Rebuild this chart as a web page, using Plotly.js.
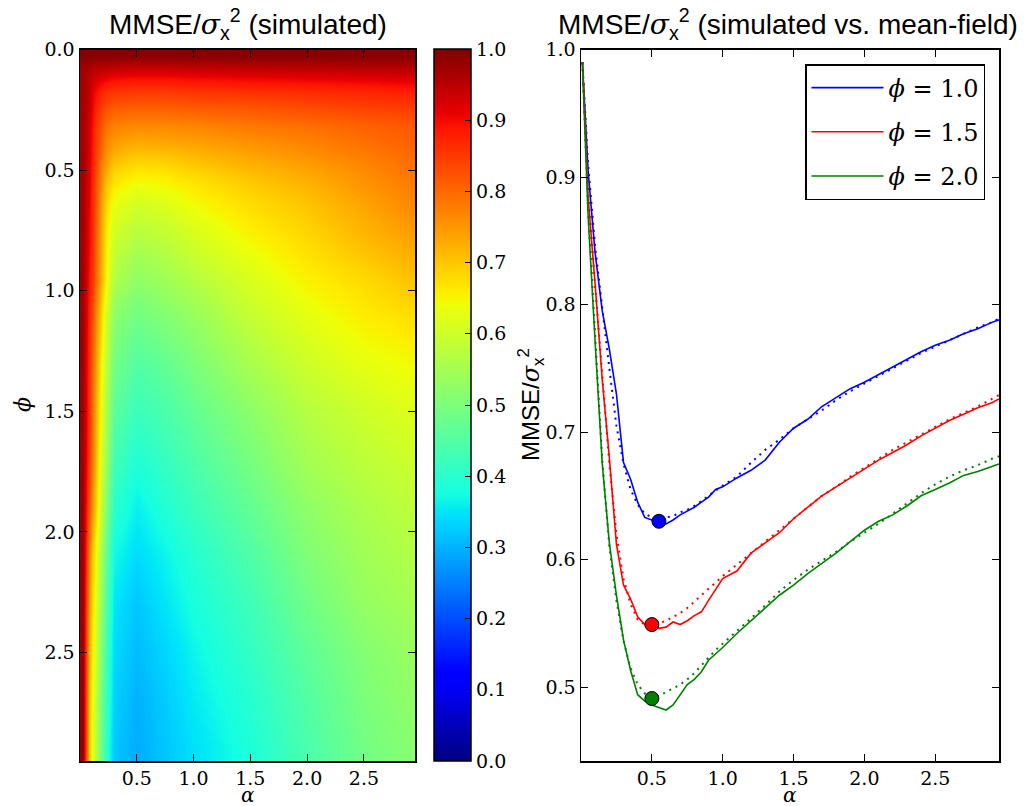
<!DOCTYPE html>
<html>
<head>
<meta charset="utf-8">
<script src="https://cdn.plot.ly/plotly-3.0.1.min.js"></script>
<style>html,body{margin:0;padding:0;background:#fff;}#chart{width:1029px;height:806px;}</style>
</head>
<body>
<div id="chart"></div>
<script>
// ---------- Heatmap data (MMSE / sigma_x^2, simulated) ----------
const alphaCells = [0.025, 0.075, 0.125, 0.175, 0.225, 0.3, 0.5, 0.75, 1.0, 1.5, 2.0, 2.5, 2.925];
const phiCells = [0.025, 0.075, 0.125, 0.175, 0.225, 0.275, 0.325, 0.375, 0.425, 0.475, 0.525, 0.575,
                  0.65, 0.75, 0.85, 0.95, 1.1, 1.3, 1.5, 1.7, 1.9, 2.1, 2.3, 2.5, 2.7, 2.9];
const mmseGrid = [
  [0.995,0.995,0.995,0.995,0.995,0.995,0.995,0.995,0.995,0.995,0.995,0.995,0.995],
  [0.97,0.965,0.955,0.95,0.95,0.945,0.94,0.94,0.945,0.95,0.95,0.955,0.955],
  [0.97,0.95,0.93,0.915,0.905,0.895,0.89,0.89,0.895,0.9,0.905,0.91,0.915],
  [0.97,0.945,0.905,0.88,0.86,0.855,0.85,0.85,0.855,0.86,0.865,0.87,0.88],
  [0.97,0.94,0.895,0.86,0.84,0.825,0.82,0.82,0.825,0.83,0.84,0.85,0.855],
  [0.97,0.935,0.885,0.84,0.81,0.795,0.79,0.79,0.795,0.805,0.815,0.825,0.835],
  [0.97,0.93,0.875,0.825,0.79,0.77,0.76,0.76,0.765,0.78,0.79,0.805,0.815],
  [0.97,0.93,0.87,0.815,0.775,0.75,0.735,0.74,0.745,0.76,0.775,0.795,0.81],
  [0.97,0.925,0.865,0.805,0.76,0.725,0.705,0.71,0.72,0.74,0.76,0.78,0.8],
  [0.97,0.92,0.86,0.79,0.74,0.7,0.678,0.683,0.698,0.722,0.742,0.768,0.792],
  [0.97,0.92,0.855,0.78,0.72,0.675,0.655,0.66,0.678,0.703,0.728,0.758,0.783],
  [0.97,0.915,0.85,0.77,0.7,0.655,0.63,0.64,0.66,0.69,0.715,0.75,0.775],
  [0.97,0.91,0.845,0.76,0.68,0.63,0.605,0.615,0.64,0.675,0.7,0.735,0.765],
  [0.97,0.905,0.84,0.75,0.665,0.605,0.575,0.59,0.615,0.655,0.685,0.72,0.745],
  [0.97,0.9,0.835,0.745,0.655,0.585,0.55,0.565,0.595,0.635,0.67,0.7,0.725],
  [0.975,0.89,0.83,0.74,0.65,0.565,0.525,0.545,0.57,0.615,0.655,0.68,0.705],
  [0.975,0.875,0.8,0.7,0.61,0.52,0.49,0.51,0.535,0.59,0.63,0.66,0.675],
  [0.975,0.865,0.775,0.67,0.58,0.49,0.45,0.47,0.5,0.555,0.6,0.63,0.645],
  [0.975,0.86,0.76,0.65,0.56,0.46,0.42,0.44,0.47,0.52,0.57,0.6,0.62],
  [0.975,0.85,0.75,0.63,0.54,0.43,0.39,0.415,0.445,0.495,0.55,0.58,0.6],
  [0.975,0.82,0.72,0.61,0.51,0.4,0.36,0.39,0.42,0.47,0.525,0.56,0.58],
  [0.975,0.77,0.67,0.57,0.47,0.37,0.34,0.365,0.395,0.445,0.505,0.545,0.565],
  [0.975,0.74,0.65,0.55,0.45,0.35,0.32,0.35,0.38,0.425,0.485,0.53,0.55],
  [0.975,0.72,0.63,0.53,0.43,0.34,0.31,0.335,0.365,0.41,0.465,0.51,0.535],
  [0.98,0.7,0.61,0.51,0.42,0.33,0.3,0.325,0.355,0.395,0.45,0.5,0.525],
  [0.98,0.69,0.6,0.5,0.41,0.32,0.295,0.32,0.345,0.385,0.44,0.49,0.515]
];

// ---------- Curves (simulated vs. mean-field) ----------
const alphaCurve = [0.01,0.05,0.1,0.15,0.2,0.25,0.3,0.35,0.4,0.45,0.5,0.55,0.6,0.65,0.7,0.75,0.8,0.85,0.9,0.95,
                    1.0,1.1,1.2,1.3,1.4,1.5,1.6,1.7,1.8,1.9,2.0,2.1,2.2,2.3,2.4,2.5,2.6,2.7,2.8,2.9,2.95];
const simPhi10 = [0.99,0.905,0.84,0.795,0.765,0.73,0.676,0.663,0.645,0.633,0.631,0.629,0.628,0.631,0.635,0.638,0.641,0.645,0.649,0.655,
                  0.657,0.664,0.670,0.678,0.692,0.703,0.71,0.72,0.727,0.734,0.739,0.745,0.751,0.757,0.763,0.768,0.772,0.777,0.781,0.786,0.788];
const mfPhi10  = [0.99,0.91,0.845,0.795,0.75,0.705,0.675,0.655,0.643,0.636,0.633,0.632,0.633,0.634,0.637,0.639,0.642,0.646,0.65,0.654,
                  0.658,0.665,0.676,0.686,0.694,0.703,0.71,0.717,0.725,0.732,0.738,0.744,0.75,0.756,0.762,0.767,0.772,0.777,0.782,0.786,0.789];
const simPhi15 = [0.99,0.885,0.815,0.741,0.68,0.612,0.58,0.569,0.555,0.549,0.547,0.546,0.547,0.551,0.549,0.552,0.556,0.559,0.568,0.577,
                  0.585,0.591,0.605,0.613,0.621,0.632,0.641,0.65,0.657,0.664,0.671,0.678,0.684,0.69,0.697,0.703,0.709,0.714,0.719,0.723,0.726];
const mfPhi15  = [0.99,0.89,0.815,0.745,0.675,0.62,0.585,0.565,0.553,0.549,0.549,0.55,0.552,0.555,0.558,0.562,0.567,0.572,0.577,0.582,
                  0.587,0.596,0.605,0.614,0.623,0.632,0.641,0.65,0.657,0.665,0.672,0.679,0.686,0.692,0.698,0.704,0.71,0.715,0.72,0.726,0.729];
const simPhi20 = [0.99,0.87,0.77,0.675,0.613,0.572,0.537,0.513,0.494,0.489,0.486,0.484,0.482,0.486,0.494,0.502,0.506,0.512,0.521,0.526,
                  0.531,0.542,0.552,0.562,0.572,0.58,0.589,0.597,0.605,0.614,0.623,0.63,0.635,0.642,0.65,0.655,0.66,0.666,0.669,0.673,0.675];
const mfPhi20  = [0.99,0.875,0.775,0.678,0.61,0.568,0.536,0.515,0.502,0.495,0.492,0.493,0.496,0.499,0.502,0.506,0.511,0.517,0.523,0.529,
                  0.534,0.544,0.554,0.564,0.575,0.584,0.592,0.599,0.606,0.614,0.621,0.628,0.636,0.644,0.652,0.659,0.665,0.67,0.674,0.679,0.681];
const minAlpha = [0.55, 0.50, 0.50];
const minMMSE  = [0.630, 0.549, 0.491];
const seriesNames = ['<i>ϕ</i> = 1.0', '<i>ϕ</i> = 1.5', '<i>ϕ</i> = 2.0'];
const seriesColors = ['#0000ff', '#ff0000', '#008000'];

// ---------- Ticks ----------
const heatXTicks = [0.5, 1.0, 1.5, 2.0, 2.5];
const heatYTicks = [0.0, 0.5, 1.0, 1.5, 2.0, 2.5];
const cbTicks = [0.0, 0.1, 0.2, 0.3, 0.4, 0.5, 0.6, 0.7, 0.8, 0.9, 1.0];
const lineXTicks = [0.5, 1.0, 1.5, 2.0, 2.5];
const lineYTicks = [0.5, 0.6, 0.7, 0.8, 0.9, 1.0];
const fmt = v => v.toFixed(1);

// matplotlib "jet" colormap
const jet = [
  [0.0, 'rgb(0,0,128)'], [0.11, 'rgb(0,0,255)'], [0.125, 'rgb(0,0,255)'],
  [0.34, 'rgb(0,219,255)'], [0.35, 'rgb(0,230,247)'], [0.375, 'rgb(21,255,226)'],
  [0.64, 'rgb(238,255,8)'], [0.65, 'rgb(247,246,0)'], [0.66, 'rgb(255,236,0)'],
  [0.89, 'rgb(255,19,0)'], [0.91, 'rgb(232,0,0)'], [1.0, 'rgb(128,0,0)']
];

const W = 1029, H = 806;
const px = v => v / W;
const py = v => 1 - v / H;
const plotTop = 49.5, plotBot = 761;
const serif = 'DejaVu Serif';
const sans = 'Liberation Sans, Arial, sans-serif';
const tickFont = {family: serif, size: 19, color: '#000'};
const sig = '<i style="font-family:DejaVu Serif">σ</i><sub>x</sub><sup>2</sup>';

const traces = [];
traces.push({
  type: 'heatmap', x: alphaCells, y: phiCells, z: mmseGrid,
  colorscale: jet, zmin: 0, zmax: 1, zsmooth: 'best',
  xaxis: 'x', yaxis: 'y', hoverinfo: 'skip',
  colorbar: {
    x: px(434), xanchor: 'left', xref: 'paper',
    y: py(plotBot), yanchor: 'bottom', yref: 'paper',
    thickness: 37, thicknessmode: 'pixels',
    len: plotBot - plotTop, lenmode: 'pixels',
    xpad: 0, ypad: 0,
    outlinecolor: '#000', outlinewidth: 1.5,
    tickmode: 'array', tickvals: cbTicks, ticktext: cbTicks.map(fmt),
    ticks: 'inside', ticklen: 6, tickcolor: '#000', tickwidth: 1,
    tickfont: tickFont
  }
});
const sims = [simPhi10, simPhi15, simPhi20];
const mfs = [mfPhi10, mfPhi15, mfPhi20];
for (let i = 0; i < 3; i++) {
  traces.push({
    type: 'scatter', mode: 'lines', x: alphaCurve, y: sims[i], name: seriesNames[i],
    line: {color: seriesColors[i], width: 1.6}, xaxis: 'x2', yaxis: 'y2',
    legendgroup: 'g' + i, hoverinfo: 'skip'
  });
}
for (let i = 0; i < 3; i++) {
  traces.push({
    type: 'scatter', mode: 'lines', x: alphaCurve, y: mfs[i], showlegend: false,
    line: {color: seriesColors[i], width: 2, dash: '2px,5px'}, xaxis: 'x2', yaxis: 'y2',
    legendgroup: 'g' + i, hoverinfo: 'skip'
  });
}
traces.push({
  type: 'scatter', mode: 'markers', x: minAlpha, y: minMMSE, showlegend: false,
  marker: {color: seriesColors, size: 14, line: {color: '#000', width: 1}},
  xaxis: 'x2', yaxis: 'y2', hoverinfo: 'skip'
});

const axisBase = {
  showline: true, linecolor: '#000', linewidth: 1.5, mirror: 'ticks',
  ticks: 'inside', ticklen: 7, tickwidth: 1, tickcolor: '#000',
  showgrid: false, zeroline: false, tickfont: tickFont, fixedrange: true
};

const layout = {
  width: W, height: H,
  margin: {l: 0, r: 0, t: 0, b: 0},
  paper_bgcolor: '#fff', plot_bgcolor: '#fff',
  font: {family: serif, color: '#000'},
  showlegend: true,
  legend: {
    x: px(985), xanchor: 'right', y: py(64), yanchor: 'top',
    bordercolor: '#000', borderwidth: 1.5, bgcolor: '#fff',
    font: {family: serif, size: 24, color: '#000'},
    traceorder: 'grouped', tracegroupgap: 10, itemwidth: 72
  },
  xaxis: Object.assign({}, axisBase, {
    domain: [px(80), px(415)], range: [0, 2.95], anchor: 'y',
    tickmode: 'array', tickvals: heatXTicks, ticktext: heatXTicks.map(fmt)
  }),
  yaxis: Object.assign({}, axisBase, {
    domain: [py(plotBot), py(plotTop)], range: [2.95, 0], anchor: 'x',
    tickmode: 'array', tickvals: heatYTicks, ticktext: heatYTicks.map(fmt)
  }),
  xaxis2: Object.assign({}, axisBase, {
    domain: [px(581), px(999)], range: [0, 2.95], anchor: 'y2',
    tickmode: 'array', tickvals: lineXTicks, ticktext: lineXTicks.map(fmt)
  }),
  yaxis2: Object.assign({}, axisBase, {
    domain: [py(plotBot), py(plotTop)], range: [0.442, 1.0], anchor: 'x2',
    tickmode: 'array', tickvals: lineYTicks, ticktext: lineYTicks.map(fmt)
  }),
  annotations: [
    {text: 'MMSE/' + sig + ' (simulated)',
     x: px(247.5), y: py(24), xref: 'paper', yref: 'paper', xanchor: 'center', yanchor: 'middle',
     showarrow: false, font: {family: sans, size: 28, color: '#000'}},
    {text: 'MMSE/' + sig + ' (simulated vs. mean-field)',
     x: px(788), y: py(24), xref: 'paper', yref: 'paper', xanchor: 'center', yanchor: 'middle',
     showarrow: false, font: {family: sans, size: 28, color: '#000'}},
    {text: '<i>α</i>', x: px(247.5), y: py(795), xref: 'paper', yref: 'paper',
     xanchor: 'center', yanchor: 'middle', showarrow: false, font: {family: serif, size: 20, color: '#000'}},
    {text: '<i>α</i>', x: px(790), y: py(795), xref: 'paper', yref: 'paper',
     xanchor: 'center', yanchor: 'middle', showarrow: false, font: {family: serif, size: 20, color: '#000'}},
    {text: '<i>ϕ</i>', x: px(22), y: py(405), xref: 'paper', yref: 'paper', textangle: -90,
     xanchor: 'center', yanchor: 'middle', showarrow: false, font: {family: serif, size: 22, color: '#000'}},
    {text: 'MMSE/' + sig, x: px(531), y: py(405),
     xref: 'paper', yref: 'paper', textangle: -90,
     xanchor: 'center', yanchor: 'middle', showarrow: false, font: {family: sans, size: 24, color: '#000'}}
  ]
};

Plotly.newPlot('chart', traces, layout, {displayModeBar: false, staticPlot: true});
</script>
</body>
</html>
